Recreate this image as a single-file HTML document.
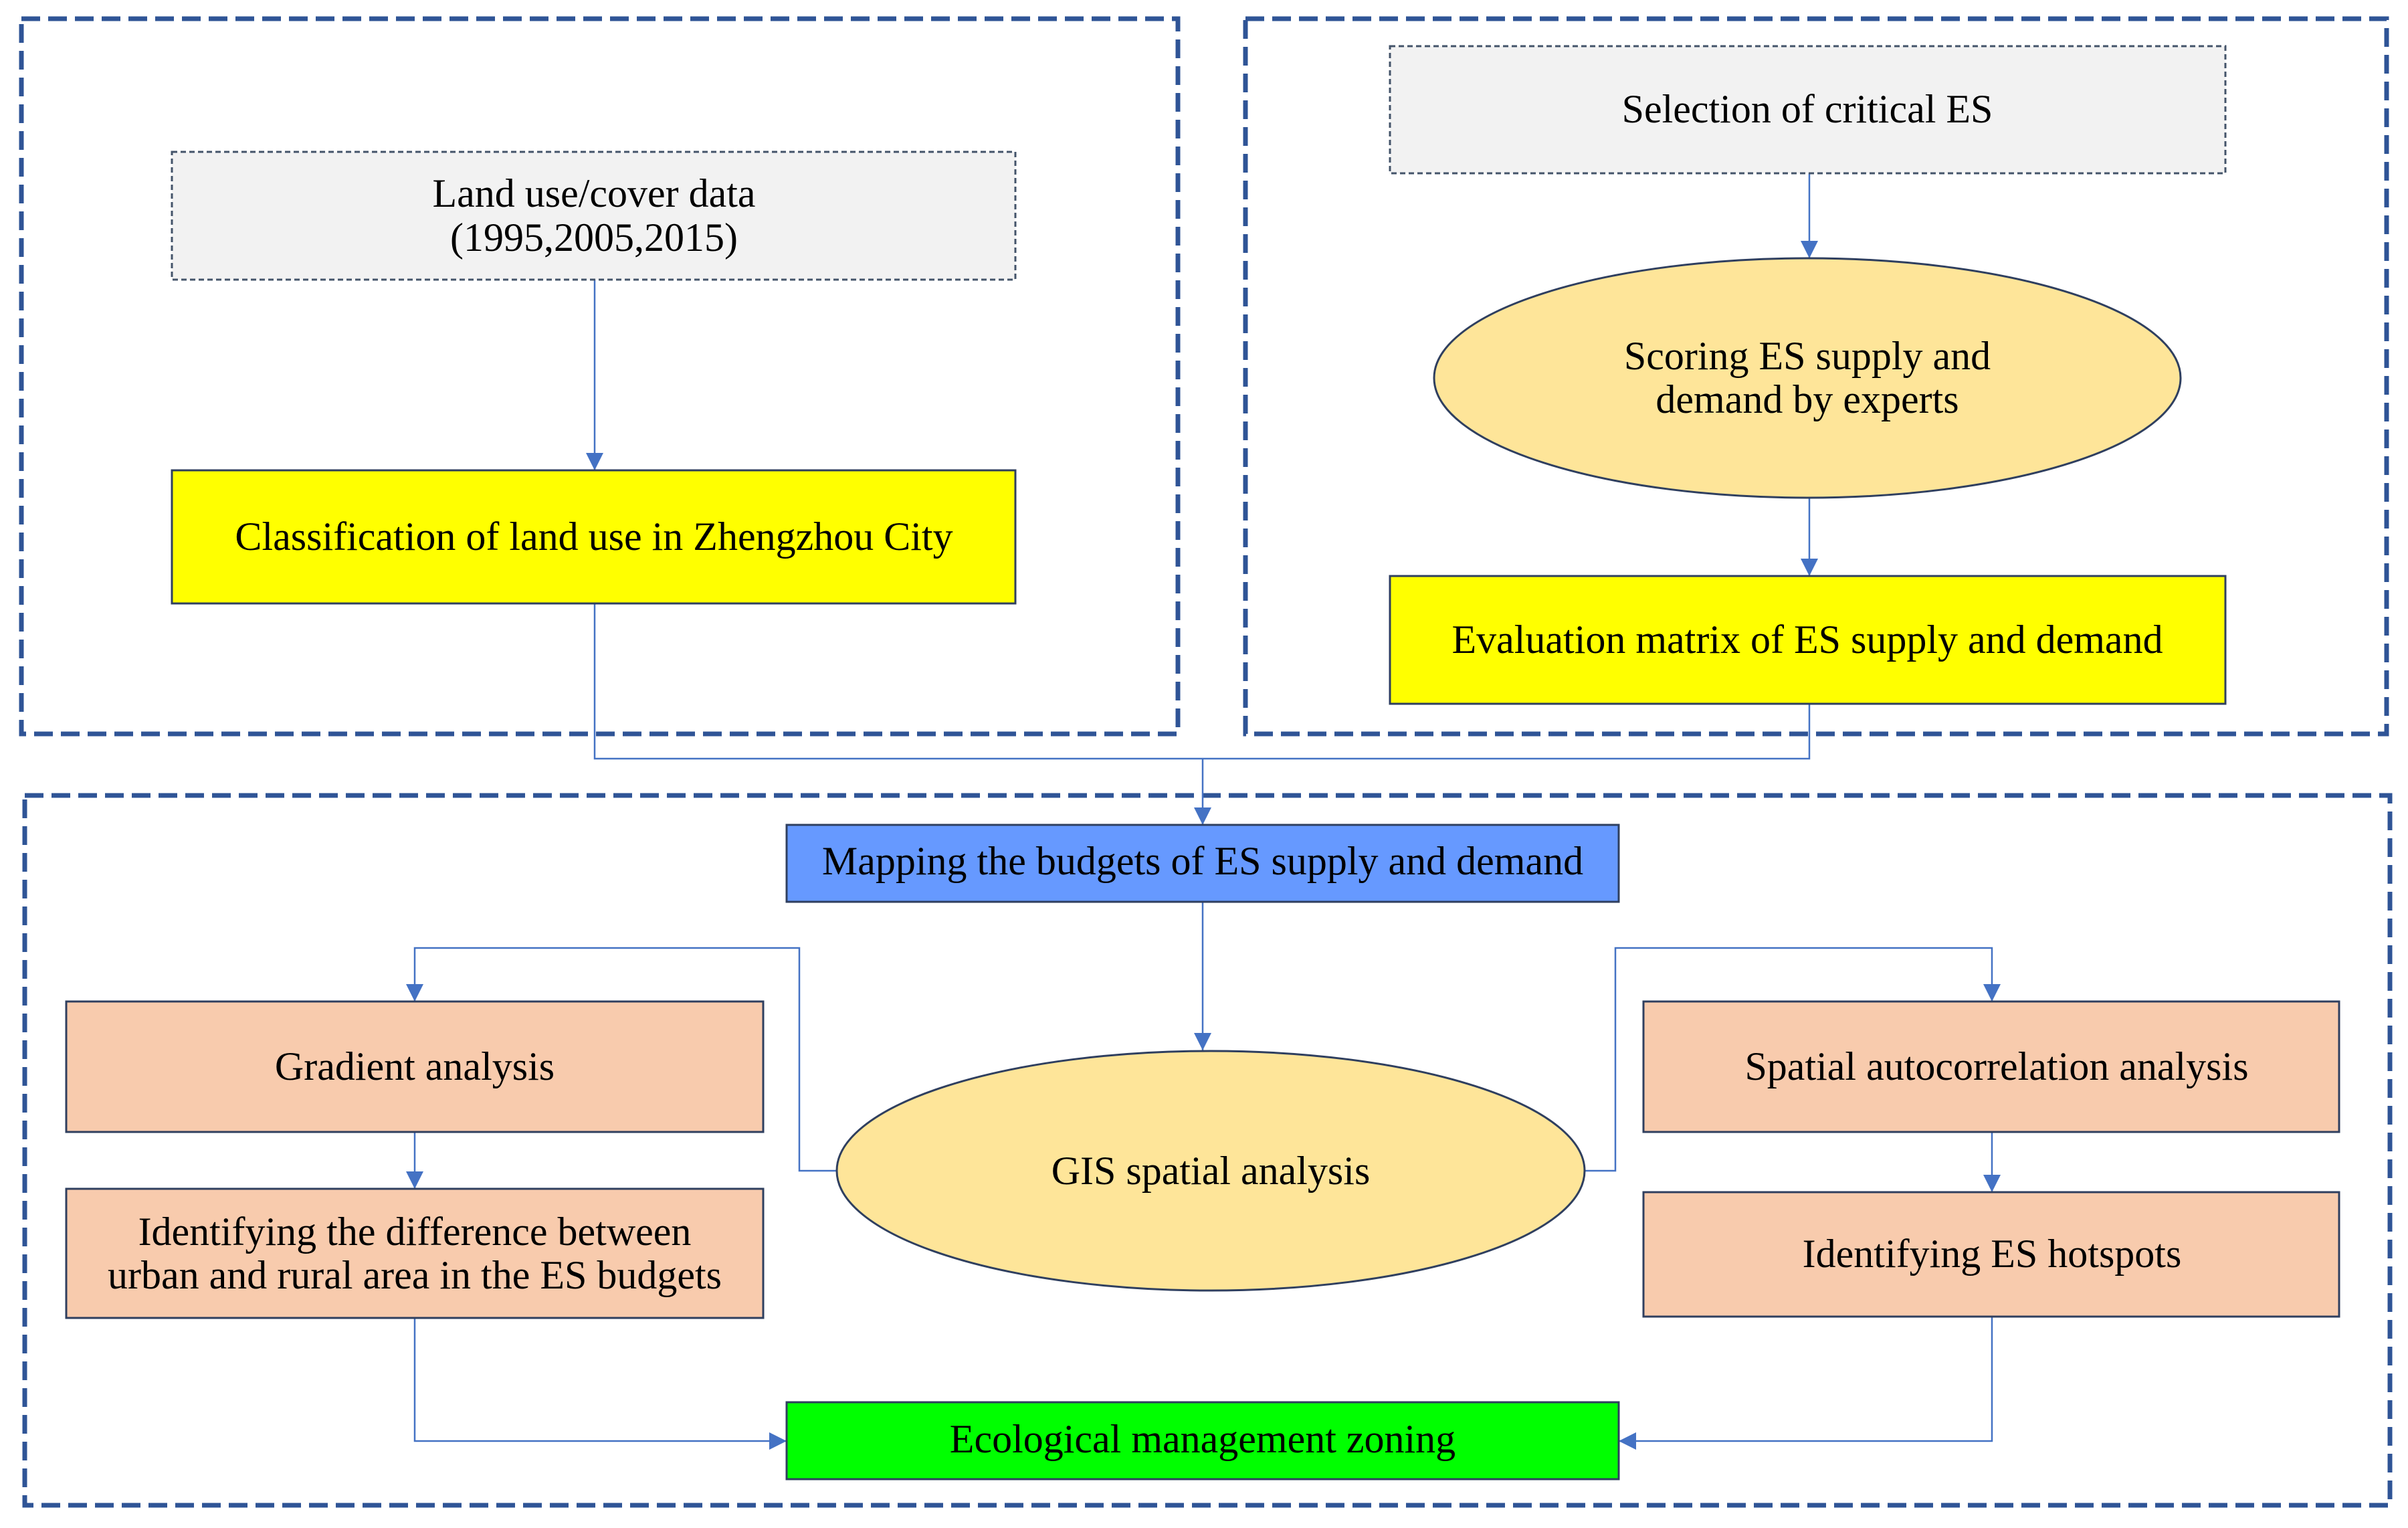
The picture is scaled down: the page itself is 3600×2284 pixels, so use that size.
<!DOCTYPE html>
<html><head><meta charset="utf-8"><style>
html,body{margin:0;padding:0;background:#fff;}
svg{display:block;}
text{font-family:"Liberation Serif",serif;font-size:60px;fill:#000;text-anchor:middle;dominant-baseline:central;}
</style></head><body>
<svg width="3600" height="2284" viewBox="0 0 3600 2284" xmlns="http://www.w3.org/2000/svg">
<defs>
<marker id="b" viewBox="0 0 10 10" refX="10" refY="5" markerWidth="26" markerHeight="26" markerUnits="userSpaceOnUse" orient="auto">
<path d="M0,0 L10,5 L0,10 z" fill="#4472c4"/></marker>
</defs>
<g fill="none" stroke="#2f5496" stroke-width="7" stroke-dasharray="28,12">
<rect x="32" y="28" width="1729" height="1069"/>
<rect x="1862" y="28" width="1706" height="1069"/>
<rect x="37" y="1189" width="3536" height="1061"/>
</g>
<g fill="none" stroke="#4472c4" stroke-width="2.5">
<path d="M889 418 V703" marker-end="url(#b)"/>
<path d="M2705 259 V386" marker-end="url(#b)"/>
<path d="M2705 744 V861" marker-end="url(#b)"/>
<path d="M889 902 V1134 H2705 V1052"/>
<path d="M1798 1134 V1233" marker-end="url(#b)"/>
<path d="M1798 1348 V1570" marker-end="url(#b)"/>
<path d="M1251 1750 H1195 V1417 H620 V1497" marker-end="url(#b)"/>
<path d="M2369 1750 H2415 V1417 H2978 V1497" marker-end="url(#b)"/>
<path d="M620 1692 V1777" marker-end="url(#b)"/>
<path d="M2978 1692 V1782" marker-end="url(#b)"/>
<path d="M620 1970 V2154 H1176" marker-end="url(#b)"/>
<path d="M2978 1968 V2154 H2420" marker-end="url(#b)"/>
</g>
<g stroke="#2f3f5f" stroke-width="3">
<rect x="257" y="227" width="1261" height="191" fill="#f2f2f2" stroke="#44546a" stroke-dasharray="8,5"/>
<rect x="257" y="703" width="1261" height="199" fill="#ffff00"/>
<rect x="2078" y="69" width="1249" height="190" fill="#f2f2f2" stroke="#44546a" stroke-dasharray="8,5"/>
<ellipse cx="2702" cy="565" rx="558" ry="179" fill="#fee599"/>
<rect x="2078" y="861" width="1249" height="191" fill="#ffff00"/>
<rect x="1176" y="1233" width="1244" height="115" fill="#6699ff"/>
<rect x="99" y="1497" width="1042" height="195" fill="#f8cbad"/>
<rect x="99" y="1777" width="1042" height="193" fill="#f8cbad"/>
<ellipse cx="1810" cy="1750" rx="559" ry="179" fill="#fee599"/>
<rect x="2457" y="1497" width="1040" height="195" fill="#f8cbad"/>
<rect x="2457" y="1782" width="1040" height="186" fill="#f8cbad"/>
<rect x="1176" y="2096" width="1244" height="115" fill="#00ff00"/>
</g>
<text x="888" y="289">Land use/cover data</text>
<text x="888" y="355">(1995,2005,2015)</text>
<text x="888" y="802">Classification of land use in Zhengzhou City</text>
<text x="2702" y="163">Selection of critical ES</text>
<text x="2702" y="532">Scoring ES supply and</text>
<text x="2702" y="597">demand by experts</text>
<text x="2702" y="956">Evaluation matrix of ES supply and demand</text>
<text x="1798" y="1287">Mapping the budgets of ES supply and demand</text>
<text x="620" y="1594">Gradient analysis</text>
<text x="620" y="1841">Identifying the difference between</text>
<text x="620" y="1906">urban and rural area in the ES budgets</text>
<text x="1810" y="1750">GIS spatial analysis</text>
<text x="2985" y="1594">Spatial autocorrelation analysis</text>
<text x="2978" y="1874">Identifying ES hotspots</text>
<text x="1798" y="2151">Ecological management zoning</text>
</svg>
</body></html>
